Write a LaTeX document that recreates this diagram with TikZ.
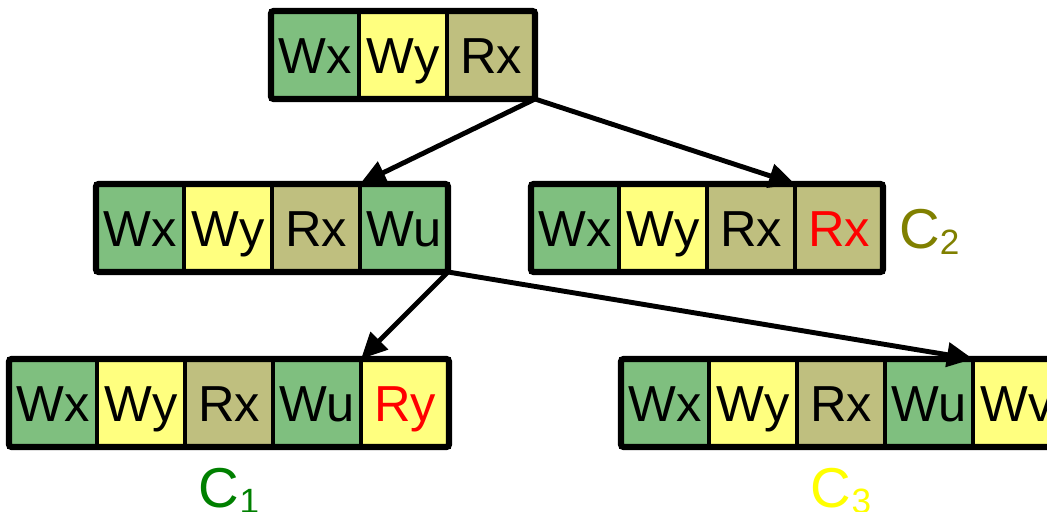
\documentclass[tikz,border=0pt]{standalone}
\usepackage{fontspec}
\setmainfont{Liberation Sans}
\usepackage{tikz}
\usetikzlibrary{arrows.meta,positioning}
\definecolor{opgreen}{RGB}{127,191,127}
\definecolor{opyellow}{RGB}{255,255,127}
\definecolor{opkhaki}{RGB}{191,191,127}
\definecolor{olivelabel}{RGB}{128,128,0}
\definecolor{greenlabel}{RGB}{0,128,0}
\definecolor{yellowlabel}{RGB}{255,255,0}
\tikzstyle{cell} = [rectangle, minimum width=2.2cm, minimum height=2.2cm, inner sep=0pt, outer sep=0pt, draw=black, line width=3.3pt, text centered, text height=25.8pt, text depth=0pt, font=\fontsize{36}{40}\selectfont]
\tikzstyle{gcell} = [cell, fill=opgreen]
\tikzstyle{ycell} = [cell, fill=opyellow]
\tikzstyle{kcell} = [cell, fill=opkhaki]
\tikzstyle{frame} = [draw=black, line width=4.5pt, rounded corners=2pt]
\tikzstyle{arrow} = [line width=3.5pt, -{Triangle[length=0.65cm,width=0.6cm]}]
\tikzstyle{clabel} = [inner sep=0pt, text height=28.6pt, text depth=0pt, font=\fontsize{40}{44}\selectfont]
\newcommand{\csub}[1]{\raisebox{-4.5pt}{\fontsize{25}{25}\selectfont #1}}

\begin{document}
\begin{tikzpicture}
\useasboundingbox (0,0) rectangle (26.175,-12.8);
\clip (0,0) rectangle (26.175,-12.8);

% root
\node[gcell] (t1) at (7.875,-1.375) {Wx};
\node[ycell, right=0pt of t1] (t2) {Wy};
\node[kcell, right=0pt of t2] (t3) {Rx};
\draw[frame] (t1.north west) rectangle (t3.south east);

% second level
\node[gcell] (l2a) at (3.5,-5.7) {Wx};
\node[ycell, right=0pt of l2a] (l2b) {Wy};
\node[kcell, right=0pt of l2b] (l2c) {Rx};
\node[gcell, right=0pt of l2c] (l2d) {Wu};
\draw[frame] (l2a.north west) rectangle (l2d.south east);

\node[gcell] (r2a) at (14.375,-5.7) {Wx};
\node[ycell, right=0pt of r2a] (r2b) {Wy};
\node[kcell, right=0pt of r2b] (r2c) {Rx};
\node[kcell, right=0pt of r2c] (r2d) {\textcolor{red}{Rx}};
\draw[frame] (r2a.north west) rectangle (r2d.south east);
\node[clabel, text=olivelabel, right=0.4cm of r2d] (c2) {C\csub{2}};

% third level
\node[gcell] (l3a) at (1.325,-10.075) {Wx};
\node[ycell, right=0pt of l3a] (l3b) {Wy};
\node[kcell, right=0pt of l3b] (l3c) {Rx};
\node[gcell, right=0pt of l3c] (l3d) {Wu};
\node[ycell, right=0pt of l3d] (l3e) {\textcolor{red}{Ry}};
\draw[frame] (l3a.north west) rectangle (l3e.south east);
\node[clabel, text=greenlabel, below=0.5cm of l3c] (c1) {C\csub{1}};

\node[gcell] (r3a) at (16.625,-10.075) {Wx};
\node[ycell, right=0pt of r3a] (r3b) {Wy};
\node[kcell, right=0pt of r3b] (r3c) {Rx};
\node[gcell, right=0pt of r3c] (r3d) {Wu};
\node[ycell, right=0pt of r3d] (r3e) {Wv};
\draw[frame] (r3a.north west) rectangle (r3e.south east);
\node[clabel, text=yellowlabel, below=0.5cm of r3c] (c3) {C\csub{3}};

% arrows
\draw[arrow] (t3.south east) -- (l2c.north east);
\draw[arrow] (t3.south east) -- (r2c.north east);
\draw[arrow] (l2d.south east) -- (l3d.north east);
\draw[arrow] (l2d.south east) -- (r3d.north east);
\end{tikzpicture}
\end{document}
